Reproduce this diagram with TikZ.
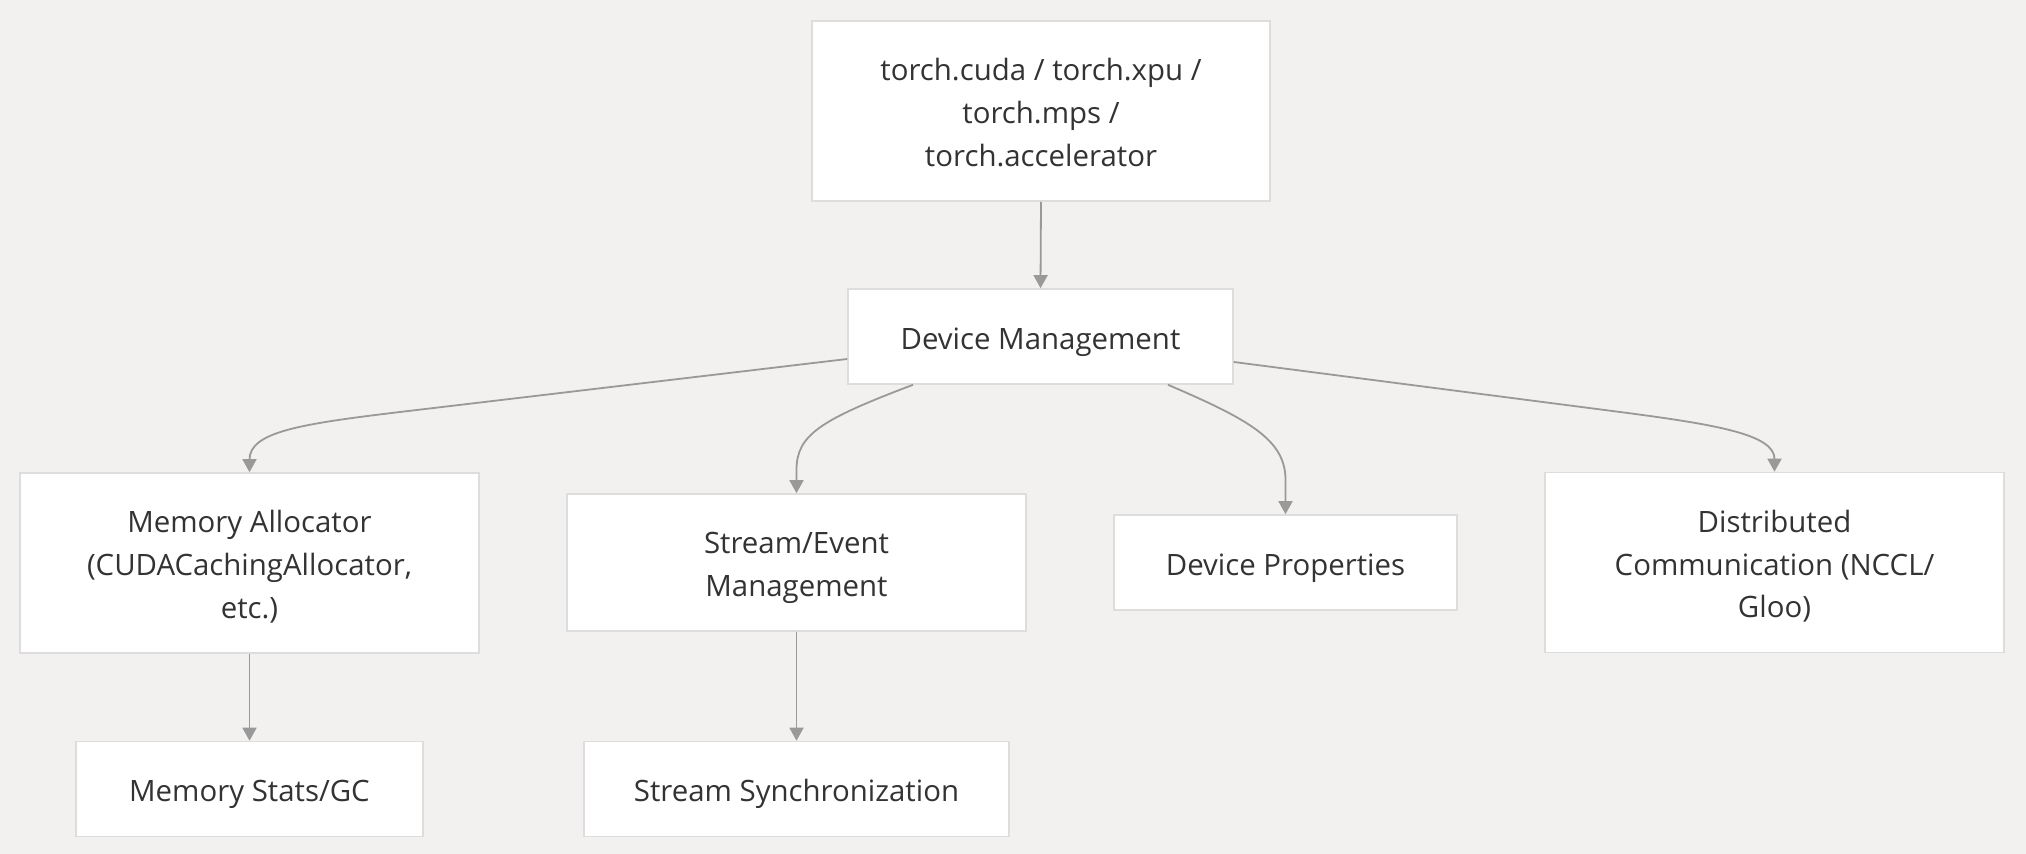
\documentclass[tikz,border=0pt]{standalone}
\usepackage{fontspec}
\setmainfont{Open Sans}
\usetikzlibrary{arrows.meta,calc}
\definecolor{bg}{HTML}{F2F1EF}
\definecolor{boxline}{HTML}{DDDDDD}
\definecolor{arrowc}{HTML}{999999}
\definecolor{txt}{HTML}{333333}
\newcommand{\bxt}[1]{\raisebox{-2pt}[\height][\depth]{\begin{tabular}{@{}c@{}}#1\end{tabular}}}
\begin{document}
\begin{tikzpicture}[x=0.5pt,y=-0.5pt,
  box/.style={draw=boxline, fill=white, line width=0.8pt, text=txt, align=center,
    font=\fontsize{14.7}{21.3}\selectfont, inner sep=0pt},
  arr/.style={draw=arrowc, line width=0.9pt, -{Triangle[width=7pt,length=6.5pt]}}]
\fill[bg] (0,0) rectangle (2026,854);
\useasboundingbox (0,0) rectangle (2026,854);

\node[box, minimum width=229pt, minimum height=90pt] (top) at (1041,111)
  {\bxt{torch.cuda / torch.xpu /\\torch.mps /\\torch.accelerator}};
\node[box, minimum width=192.5pt, minimum height=47.5pt] (dm) at (1040.5,336.5)
  {\bxt{Device Management}};
\node[box, minimum width=229.5pt, minimum height=90pt] (ma) at (249.5,563)
  {\bxt{Memory Allocator\\(CUDACachingAllocator,\\etc.)}};
\node[box, minimum width=229.5pt, minimum height=68.5pt] (se) at (796.5,562.5)
  {\bxt{Stream/Event\\Management}};
\node[box, minimum width=171.5pt, minimum height=47.5pt] (dp) at (1285.5,562.5)
  {\bxt{Device Properties}};
\node[box, minimum width=229.5pt, minimum height=90pt] (dc) at (1774.5,562.5)
  {\bxt{Distributed\\Communication (NCCL/\\Gloo)}};
\node[box, minimum width=173.5pt, minimum height=47.5pt] (ms) at (249.5,789)
  {\bxt{Memory Stats/GC}};
\node[box, minimum width=212.5pt, minimum height=47.5pt] (ss) at (796.5,789)
  {\bxt{Stream Synchronization}};

\draw[arr] (top.south) -- (dm.north);
\draw[arr] ($(dm.west)+(0,22.5)$) -- (400,412) .. controls (300,424) and (249.5,432) .. (ma.north);
\draw[arr] ($(dm.south)+(-127.5,0)$) .. controls (820,420) and (796.5,435) .. (796.5,470) -- (se.north);
\draw[arr] ($(dm.south)+(127.5,0)$) .. controls (1250,420) and (1285.5,440) .. (1285.5,480) -- (dp.north);
\draw[arr] ($(dm.east)+(0,25.5)$) -- (1620,412) .. controls (1720,425) and (1774.5,435) .. (dc.north);
\draw[arr] (ma.south) -- (ms.north);
\draw[arr] (se.south) -- (ss.north);
\end{tikzpicture}
\end{document}
